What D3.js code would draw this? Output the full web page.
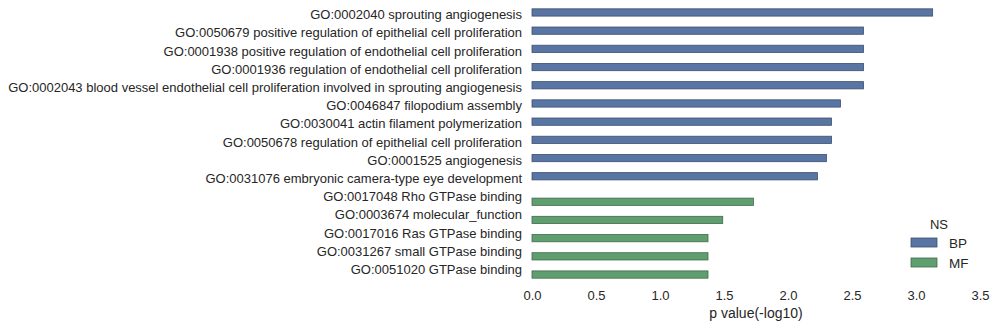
<!DOCTYPE html>
<html>
<head>
<meta charset="utf-8">
<script src="https://cdn.jsdelivr.net/npm/d3@7"></script>
<style>
body { margin: 0; background: #fff; }
text { font-family: "Liberation Sans", Arial, sans-serif; fill: #262626; }
</style>
</head>
<body>
<div id="chart"></div>
<script>
// GO terms, top to bottom
var terms = [
  "GO:0002040 sprouting angiogenesis",
  "GO:0050679 positive regulation of epithelial cell proliferation",
  "GO:0001938 positive regulation of endothelial cell proliferation",
  "GO:0001936 regulation of endothelial cell proliferation",
  "GO:0002043 blood vessel endothelial cell proliferation involved in sprouting angiogenesis",
  "GO:0046847 filopodium assembly",
  "GO:0030041 actin filament polymerization",
  "GO:0050678 regulation of epithelial cell proliferation",
  "GO:0001525 angiogenesis",
  "GO:0031076 embryonic camera-type eye development",
  "GO:0017048 Rho GTPase binding",
  "GO:0003674 molecular_function",
  "GO:0017016 Ras GTPase binding",
  "GO:0031267 small GTPase binding",
  "GO:0051020 GTPase binding"
];
var namespace = ["BP", "BP", "BP", "BP", "BP", "BP", "BP", "BP", "BP", "BP",
                 "MF", "MF", "MF", "MF", "MF"];
var pvalues = [3.13, 2.59, 2.59, 2.59, 2.59, 2.41, 2.34, 2.34, 2.30, 2.23,
               1.73, 1.49, 1.375, 1.375, 1.375];
var groups = ["BP", "MF"];
var xTicks = [0, 0.5, 1, 1.5, 2, 2.5, 3, 3.5];

(function() {
var width = 994, height = 328;
var plot = { left: 532, right: 980, top: 7, bottom: 280 };

var svg = d3.select('#chart').append('svg')
  .attr('width', width).attr('height', height);

var x = d3.scaleLinear().domain([0, 3.5]).range([plot.left, plot.right]);
var y = d3.scaleBand().domain(terms).range([plot.top, plot.bottom])
  .paddingInner(0.2).paddingOuter(0.1);
var sub = d3.scaleBand().domain(groups).range([0, y.bandwidth()]);
var color = d3.scaleOrdinal().domain(groups).range(['#5875a4', '#5f9e6e']);
var edge = d3.scaleOrdinal().domain(groups).range(['#3d4f6e', '#42694b']);

var rows = terms.map(function(t, i) {
  return { term: t, ns: namespace[i], p: pvalues[i] };
});

svg.append('g').selectAll('rect')
  .data(rows)
  .enter().append('rect')
  .attr('x', x(0))
  .attr('y', function(d) { return y(d.term) + sub(d.ns); })
  .attr('width', function(d) { return x(d.p) - x(0); })
  .attr('height', sub.bandwidth())
  .attr('fill', function(d) { return color(d.ns); })
  .attr('stroke', function(d) { return edge(d.ns); })
  .attr('stroke-width', 0.8);

// category labels
var yAxis = svg.append('g')
  .attr('transform', 'translate(' + plot.left + ',0)')
  .call(d3.axisLeft(y).tickSize(0).tickPadding(10));
yAxis.select('.domain').remove();
yAxis.selectAll('text').style('font-size', '13px').attr('y', -1);

var xAxis = svg.append('g')
  .attr('transform', 'translate(0,' + (plot.bottom + 1) + ')')
  .call(d3.axisBottom(x).tickValues(xTicks).tickSize(0).tickPadding(10)
    .tickFormat(d3.format('.1f')));
xAxis.select('.domain').remove();
xAxis.selectAll('text').style('font-size', '13px');

svg.append('text')
  .attr('x', x(1.75))
  .attr('y', 318)
  .attr('text-anchor', 'middle')
  .style('font-size', '14px')
  .text('p value(-log10)');

// legend
var legend = svg.append('g').attr('transform', 'translate(911,220)');
legend.append('text')
  .attr('x', 28).attr('y', 9)
  .attr('text-anchor', 'middle')
  .style('font-size', '13px')
  .text('NS');
groups.forEach(function(g, i) {
  legend.append('rect')
    .attr('x', 0).attr('y', 18 + i * 20)
    .attr('width', 26).attr('height', 9)
    .attr('fill', color(g))
    .attr('stroke', edge(g))
    .attr('stroke-width', 0.8);
  legend.append('text')
    .attr('x', 38).attr('y', 28 + i * 20)
    .style('font-size', '13.5px')
    .text(g);
});
})();
</script>
</body>
</html>
